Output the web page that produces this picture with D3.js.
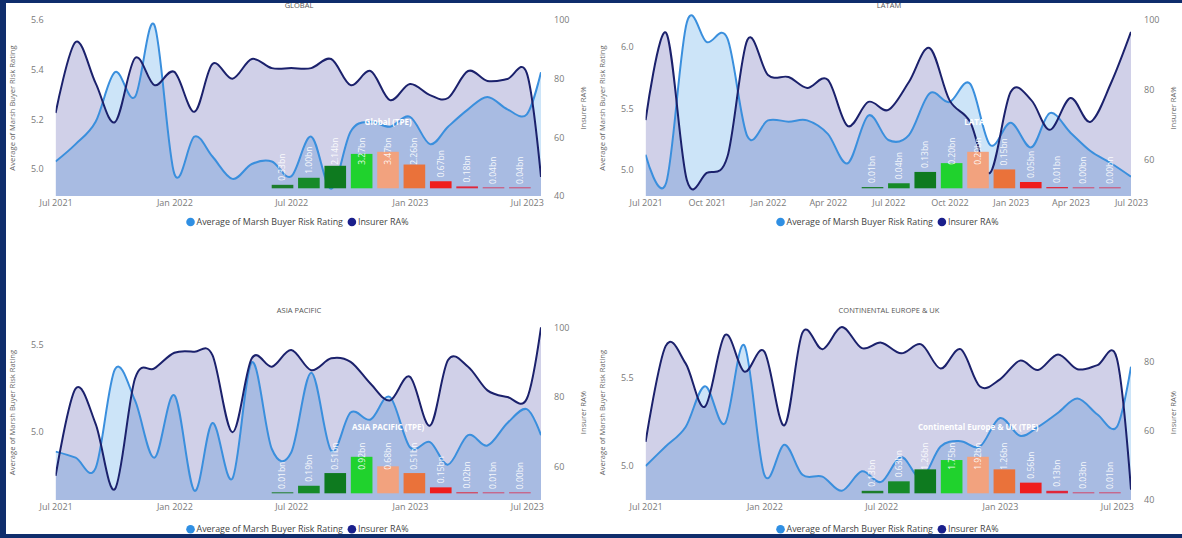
<!DOCTYPE html>
<html>
<head>
<meta charset="utf-8">
<script src="https://cdn.jsdelivr.net/npm/d3@7"></script>
<style>
  html, body { margin: 0; padding: 0; background: #ffffff; }
  svg { display: block; font-family: "Open Sans", "Segoe UI", sans-serif; }
</style>
</head>
<body>
<svg id="chart" width="1182" height="538"></svg>
<script>
// ---------- data ----------
const monthsToJul23 = ["2021-07-01","2021-08-01","2021-09-01","2021-10-01","2021-11-01","2021-12-01",
  "2022-01-01","2022-02-01","2022-03-01","2022-04-01","2022-05-01","2022-06-01",
  "2022-07-01","2022-08-01","2022-09-01","2022-10-01","2022-11-01","2022-12-01",
  "2023-01-01","2023-02-01","2023-03-01","2023-04-01","2023-05-01","2023-06-01","2023-07-01"];
const latestSnapshot = "2023-07-23";
const datesWithSnapshot = monthsToJul23.concat([latestSnapshot]);

const seriesNames = ["Average of Marsh Buyer Risk Rating", "Insurer RA%"];

const globalRating = [5.03,5.10,5.19,5.39,5.29,5.58,4.98,5.13,5.05,4.96,5.02,5.03,4.97,5.13,4.92,5.15,5.19,5.17,5.21,5.10,5.17,5.24,5.29,5.24,5.22,5.39];
const globalRA     = [68.3,92.5,78.5,65.2,87.0,77.8,82.3,68.7,85.0,80.0,86.7,83.6,83.6,83.6,86.7,77.8,82.6,72.7,78.2,74.4,73.4,82.6,79.2,79.9,81.9,46.5];

const latamRating  = [5.12,4.89,6.20,6.04,6.07,5.27,5.40,5.39,5.40,5.29,5.05,5.44,5.24,5.28,5.62,5.55,5.70,5.20,5.38,5.18,5.46,5.30,5.15,5.05,4.94];
const latamRA      = [71.4,96.3,54.3,56.3,60.9,94.3,84.3,83.7,80.6,82.9,69.7,76.6,74.3,82.3,92.0,77.1,70.9,56.3,79.4,77.1,68.6,77.7,70.9,82.0,96.6];

const apacRating   = [4.885,4.85,4.79,5.36,5.18,4.85,5.21,4.66,5.05,4.73,5.40,4.90,4.88,5.34,4.89,5.11,5.07,5.20,4.91,4.94,4.81,4.98,4.92,5.05,5.13,4.98];
const apacRA       = [57.4,82.4,72.3,53.6,85.3,88.2,92.7,93.0,92.0,69.9,91.1,88.7,93.5,87.7,91.1,90.1,83.8,79.0,85.8,71.8,90.6,88.7,81.9,80.0,79.5,100.0];

const europeRating = [5.00,5.11,5.22,5.45,5.24,5.68,4.95,5.12,4.95,4.94,4.86,4.97,4.91,5.05,4.93,5.11,5.14,5.11,5.27,5.17,5.22,5.30,5.38,5.29,5.22,5.56];
const europeRA     = [56.8,84.5,79.5,67.0,87.7,77.1,82.9,61.6,88.4,83.6,90.0,83.9,85.5,82.4,85.0,78.0,83.6,72.8,74.9,80.3,77.6,82.1,77.8,79.0,81.0,43.0];

// exposure by rating bucket, bn
const tpeBuckets = [1,2,3,4,5,6,7,8,9,10];
const globalTPE = [0.33,1.00,2.14,3.27,3.47,2.26,0.67,0.18,0.04,0.04];
const latamTPE  = [0.01,0.04,0.13,0.20,0.29,0.15,0.05,0.01,0.004,0.004];
const apacTPE   = [0.01,0.19,0.51,0.92,0.68,0.51,0.15,0.02,0.01,0.004];
const europeTPE = [0.13,0.63,1.26,1.75,1.92,1.26,0.56,0.13,0.03,0.01];

// axis ticks
const semiAnnualTicks = ["2021-07-01","2022-01-01","2022-07-01","2023-01-01","2023-07-01"];
const quarterlyTicks  = ["2021-07-01","2021-10-01","2022-01-01","2022-04-01","2022-07-01","2022-10-01","2023-01-01","2023-04-01","2023-07-01"];
const globalRatingTicks = [5.0,5.2,5.4,5.6];
const globalRATicks     = [40,60,80,100];
const latamRatingTicks  = [5.0,5.5,6.0];
const latamRATicks      = [60,80,100];
const apacRatingTicks   = [5.0,5.5];
const apacRATicks       = [60,80,100];
const europeRatingTicks = [5.0,5.5];
const europeRATicks     = [40,60,80];

// ---------- styles ----------
const ratingLine = "#3a8fdd", ratingFill = "rgb(0,120,220)";
const raLine = "#1b216c", raFill = "rgb(40,40,150)";
const bucketColors = ["#1c7d2c","#168a28","#0e7a1f","#20d22d","#f2a27e","#ea723a","#ef1d1d","#e0263a","#d2476a","#d2476a"];

const parse = d3.timeParse("%Y-%m-%d");
const svg = d3.select("#chart");

// page frame
svg.append("rect").attr("width", 1182).attr("height", 538).attr("fill", "#0f2d6c");
svg.append("rect").attr("x", 6).attr("y", 3).attr("width", 1176).attr("height", 531).attr("fill", "#ffffff");

const panels = [
  { title: "GLOBAL", tpeTitle: "Global (TPE)", dates: datesWithSnapshot, rating: globalRating, ra: globalRA,
    tpe: globalTPE, xTicks: semiAnnualTicks, lTicks: globalRatingTicks, rTicks: globalRATicks, lFmt: ".1f",
    ox: 0, top: 20, bottom: 196, lDomain: [4.891, 5.6], rDomain: [40, 100],
    titleY: 5, legendY: 222, insetBase: 188.3, insetTitleY: 122 },
  { title: "LATAM", tpeTitle: "LATAM", dates: monthsToJul23, rating: latamRating, ra: latamRA,
    tpe: latamTPE, xTicks: quarterlyTicks, lTicks: latamRatingTicks, rTicks: latamRATicks, lFmt: ".1f",
    ox: 590, top: 20, bottom: 196, lDomain: [4.782, 6.221], rDomain: [49.7, 100],
    titleY: 5, legendY: 222, insetBase: 188.3, insetTitleY: 122 },
  { title: "ASIA PACIFIC", tpeTitle: "ASIA PACIFIC (TPE)", dates: datesWithSnapshot, rating: apacRating, ra: apacRA,
    tpe: apacTPE, xTicks: semiAnnualTicks, lTicks: apacRatingTicks, rTicks: apacRATicks, lFmt: ".1f",
    ox: 0, top: 325, bottom: 500, lDomain: [4.606, 5.615], rDomain: [50.44, 100.66],
    titleY: 310.7, legendY: 529.3, insetBase: 493.3, insetTitleY: 427.5 },
  { title: "CONTINENTAL EUROPE & UK", tpeTitle: "Continental Europe & UK (TPE)", dates: datesWithSnapshot, rating: europeRating, ra: europeRA,
    tpe: europeTPE, xTicks: semiAnnualTicks, lTicks: europeRatingTicks, rTicks: europeRATicks, lFmt: ".1f",
    ox: 590, top: 325, bottom: 500, lDomain: [4.808, 5.795], rDomain: [40, 90.6],
    titleY: 310.7, legendY: 529.3, insetBase: 493.3, insetTitleY: 427.5 }
];

panels.forEach((p, idx) => drawPanel(p, idx));

function drawPanel(p, idx) {
  const x0 = p.ox + 55.6, x1 = p.ox + 541;
  const g = svg.append("g");
  const dates = p.dates.map(parse);

  const x = d3.scaleTime().domain(d3.extent(dates)).range([x0, x1]);
  const yL = d3.scaleLinear().domain(p.lDomain).range([p.bottom, p.top]);
  const yR = d3.scaleLinear().domain(p.rDomain).range([p.bottom, p.top]);

  const clipId = "clip" + idx;
  svg.append("clipPath").attr("id", clipId)
    .append("rect").attr("x", x0).attr("y", p.top - 12).attr("width", x1 - x0).attr("height", p.bottom - p.top + 12);

  const ratingPts = dates.map((d, i) => ({ d, v: p.rating[i] }));
  const raPts = dates.map((d, i) => ({ d, v: p.ra[i] }));
  const curve = d3.curveCardinal;

  const plot = g.append("g").attr("clip-path", `url(#${clipId})`);
  plot.append("path").datum(ratingPts)
    .attr("d", d3.area().x(d => x(d.d)).y0(p.bottom).y1(d => yL(d.v)).curve(curve))
    .attr("fill", ratingFill).attr("fill-opacity", 0.2);
  plot.append("path").datum(raPts)
    .attr("d", d3.area().x(d => x(d.d)).y0(p.bottom).y1(d => yR(d.v)).curve(curve))
    .attr("fill", raFill).attr("fill-opacity", 0.22);
  plot.append("path").datum(ratingPts)
    .attr("d", d3.line().x(d => x(d.d)).y(d => yL(d.v)).curve(curve))
    .attr("fill", "none").attr("stroke", ratingLine).attr("stroke-width", 2);
  plot.append("path").datum(raPts)
    .attr("d", d3.line().x(d => x(d.d)).y(d => yR(d.v)).curve(curve))
    .attr("fill", "none").attr("stroke", raLine).attr("stroke-width", 2);

  // axes
  const tickStyle = sel => {
    sel.select(".domain").remove();
    sel.selectAll("text").attr("fill", "#7a7a7a").attr("font-size", 9).attr("font-family", "Open Sans, sans-serif");
  };
  g.append("g").attr("transform", `translate(${x0},0)`)
    .call(d3.axisLeft(yL).tickValues(p.lTicks).tickFormat(d3.format(p.lFmt)).tickSize(0).tickPadding(12))
    .call(tickStyle);
  g.append("g").attr("transform", `translate(${x1},0)`)
    .call(d3.axisRight(yR).tickValues(p.rTicks).tickFormat(d3.format("d")).tickSize(0).tickPadding(13))
    .call(tickStyle);
  g.append("g").attr("transform", `translate(0,${p.bottom})`)
    .call(d3.axisBottom(x).tickValues(p.xTicks.map(parse)).tickFormat(d3.timeFormat("%b %Y")).tickSize(0).tickPadding(4))
    .call(tickStyle);

  // axis titles
  const midY = (p.top + p.bottom) / 2;
  g.append("text").attr("transform", `translate(${p.ox + 15},${midY}) rotate(-90)`)
    .attr("text-anchor", "middle").attr("font-size", 7.6).attr("fill", "#666").text(seriesNames[0]);
  g.append("text").attr("transform", `translate(${p.ox + 586},${midY}) rotate(-90)`)
    .attr("text-anchor", "middle").attr("font-size", 7.6).attr("fill", "#666").text("Insurer RA%");

  // panel title
  g.append("text").attr("x", p.ox + 299).attr("y", p.titleY).attr("dy", "0.35em")
    .attr("text-anchor", "middle").attr("font-size", 7.5).attr("fill", "#555").text(p.title);

  // legend
  const leg = g.append("g");
  const items = [{ name: seriesNames[0], color: "#2f8fe3" }, { name: seriesNames[1], color: "#1a1f8c" }];
  let cx = 0;
  items.forEach(it => {
    leg.append("circle").attr("cx", cx + 4).attr("cy", p.legendY).attr("r", 4.3).attr("fill", it.color);
    const t = leg.append("text").attr("x", cx + 10).attr("y", p.legendY).attr("dy", "0.35em")
      .attr("font-size", 8.9).attr("fill", "#444").text(it.name);
    cx += 10 + t.node().getComputedTextLength() + 5;
  });
  leg.attr("transform", `translate(${p.ox + 300 - cx / 2},0)`);

  // exposure inset
  const xb = d3.scaleBand().domain(tpeBuckets).range([p.ox + 271.7, p.ox + 530.7]).paddingInner(0.18);
  const yb = d3.scaleLinear().domain([0, d3.max(p.tpe)]).range([p.insetBase, p.insetBase - 36.5]);
  const inset = g.append("g");
  inset.selectAll("rect").data(p.tpe).join("rect")
    .attr("x", (d, i) => xb(tpeBuckets[i]))
    .attr("width", xb.bandwidth())
    .attr("y", d => Math.min(yb(d), p.insetBase - 1))
    .attr("height", d => Math.max(p.insetBase - yb(d), 1))
    .attr("fill", (d, i) => bucketColors[i]);
  inset.selectAll("text.v").data(p.tpe).join("text").attr("class", "v")
    .attr("transform", (d, i) => {
      const bx = xb(tpeBuckets[i]) + xb.bandwidth() / 2;
      const by = Math.max(yb(d) - 4, p.insetBase - 23.5);
      return `translate(${bx},${by}) rotate(-90)`;
    })
    .attr("dy", "0.35em").attr("font-size", 8.5).attr("fill", "#ffffff").attr("fill-opacity", 0.92)
    .text(d => d3.format(".2f")(d) + "bn");
  inset.append("text").attr("x", (xb.range()[0] + xb.range()[1]) / 2 - 13).attr("y", p.insetTitleY).attr("dy", "0.35em")
    .attr("text-anchor", "middle").attr("font-size", 8).attr("font-weight", "bold").attr("fill", "#ffffff")
    .text(p.tpeTitle);
}
</script>
</body>
</html>
